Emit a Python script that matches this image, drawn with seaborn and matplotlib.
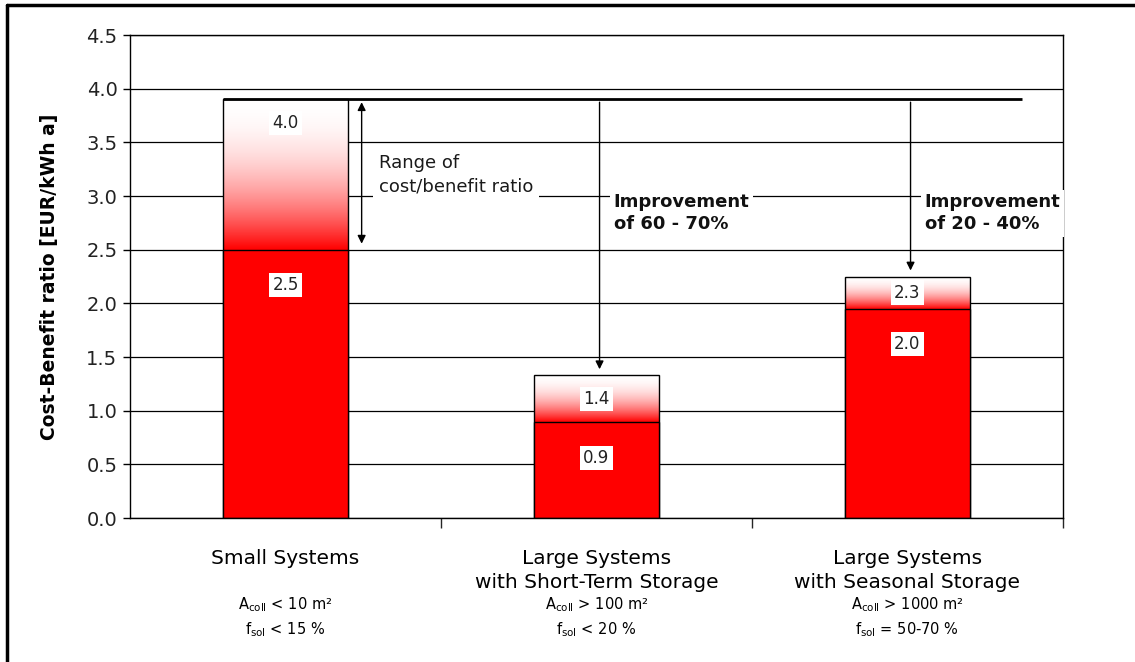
import numpy as np
import seaborn as sns
from matplotlib import pyplot as plt
from matplotlib.lines import Line2D

# data
categories = ['Small Systems',
              'Large Systems\nwith Short-Term Storage',
              'Large Systems\nwith Seasonal Storage']
conditions = ['A$_{\\mathregular{coll}}$ < 10 m²\nf$_{\\mathregular{sol}}$ < 15 %',
              'A$_{\\mathregular{coll}}$ > 100 m²\nf$_{\\mathregular{sol}}$ < 20 %',
              'A$_{\\mathregular{coll}}$ > 1000 m²\nf$_{\\mathregular{sol}}$ = 50-70 %']
upper_values = [3.9, 1.33, 2.25]      # drawn top of range
lower_values = [2.5, 0.89, 1.95]      # drawn bottom of range
upper_labels = ['4.0', '1.4', '2.3']
lower_labels = ['2.5', '0.9', '2.0']
improvements = ['Improvement\nof 60 - 70%', 'Improvement\nof 20 - 40%']
y_ticks = [0.0, 0.5, 1.0, 1.5, 2.0, 2.5, 3.0, 3.5, 4.0, 4.5]

RED = '#ff0000'
sns.set_theme(style='white')
plt.rcParams['font.family'] = ['DejaVu Sans']
plt.rcParams['text.color'] = 'black'

fig = plt.figure(figsize=(11.35, 6.62), dpi=100)
ax = fig.add_axes([0.1145, 0.2175, 0.822, 0.7296])

# outline of full range
sns.barplot(x=categories, y=upper_values, fill=False, color='black',
            linewidth=1, width=0.4, ax=ax, zorder=2)
outline = list(ax.patches)

# gradient fill white -> red for the upper part
t = np.linspace(0, 1, 256) ** 2.0
grad = np.ones((256, 1, 3))
grad[:, 0, 1] = 1 - t
grad[:, 0, 2] = 1 - t
for p, lo in zip(outline, lower_values):
    x0 = p.get_x()
    ax.imshow(grad, extent=(x0, x0 + p.get_width(), lo, p.get_height()),
              origin='upper', aspect='auto', zorder=1.5, interpolation='bilinear')

# solid lower part
sns.barplot(x=categories, y=lower_values, color=RED, saturation=1,
            edgecolor='black', linewidth=1, width=0.4, ax=ax, zorder=2)

ax.set_xlim(-0.5, 2.5)
ax.set_ylim(0, 4.5)
ax.set_yticks(y_ticks)
ax.set_yticklabels([f'{v:.1f}' for v in y_ticks])
ax.set_axisbelow(True)
ax.yaxis.grid(True, color='black', linewidth=0.9)
ax.xaxis.grid(False)
for s in ax.spines.values():
    s.set_color('black')
    s.set_linewidth(1)
ax.tick_params(axis='y', left=True, length=5, width=1, direction='out',
               labelsize=14, pad=4, colors='black', labelcolor='#222222')
ax.set_xticks([0.5, 1.5, 2.5], minor=True)
ax.tick_params(axis='x', which='minor', bottom=True, length=7, width=1, direction='out')
ax.tick_params(axis='x', which='major', bottom=False, length=0, pad=22,
               labelsize=14.5, labelcolor='black')
for lab in ax.get_xticklabels():
    lab.set_linespacing(1.35)
ax.set_ylabel('Cost-Benefit ratio [EUR/kWh a]', fontsize=13.5, fontweight='bold',
              labelpad=20, color='black')
ax.set_xlabel('')

for i, cond in enumerate(conditions):
    ax.annotate(cond, xy=(i, 0), xycoords=('data', 'axes fraction'),
                xytext=(0, -56), textcoords='offset points', ha='center', va='top',
                fontsize=10.5, linespacing=1.45)

# value labels
box = dict(boxstyle='square,pad=0.2', fc='white', ec='none')
for i, (hi, lo) in enumerate(zip(upper_values, lower_values)):
    y_hi = max(hi - 0.22, (hi + lo) / 2)
    ax.text(i, y_hi, upper_labels[i], ha='center', va='center', fontsize=12,
            color='#222222', bbox=box, zorder=4)
    ax.text(i, lo - 0.33, lower_labels[i], ha='center', va='center', fontsize=12,
            color='#222222', bbox=box, zorder=4)

# top reference line at the small-system level
top = upper_values[0]
x_left = outline[0].get_x()
ax.plot([x_left, 2.37], [top, top], color='black', lw=2, zorder=3, solid_capstyle='butt')

# range arrow
ax_x = x_left + outline[0].get_width() + 0.045
ax.annotate('', xy=(ax_x, lower_values[0] + 0.03), xytext=(ax_x, top),
            arrowprops=dict(arrowstyle='<|-|>', color='black', lw=1, mutation_scale=12),
            zorder=3)
ax.text(ax_x + 0.055, 3.2, 'Range of\ncost/benefit ratio', ha='left', va='center',
        fontsize=13, color='#1a1a1a', linespacing=1.35, zorder=4,
        bbox=dict(boxstyle='square,pad=0.3', fc='white', ec='none'))

# improvement arrows
for i, txt in zip([1, 2], improvements):
    ax.annotate('', xy=(i + 0.01, upper_values[i] + 0.03), xytext=(i + 0.01, top),
                arrowprops=dict(arrowstyle='-|>', color='black', lw=1, mutation_scale=12),
                zorder=3)
    ax.text(i + 0.055, 2.84, txt, ha='left', va='center', fontsize=13,
            fontweight='bold', color='#111111', linespacing=1.25,
            bbox=dict(boxstyle='square,pad=0.2', fc='white', ec='none'), zorder=4)

# frame around the figure (left and top edges visible)
fig.add_artist(Line2D([7 / 1135, 7 / 1135], [0, 1 - 5 / 662], color='black', lw=2.5))
fig.add_artist(Line2D([7 / 1135, 1], [1 - 5 / 662, 1 - 5 / 662], color='black', lw=2.5))

plt.savefig('out.png', dpi=100)
plt.close()
